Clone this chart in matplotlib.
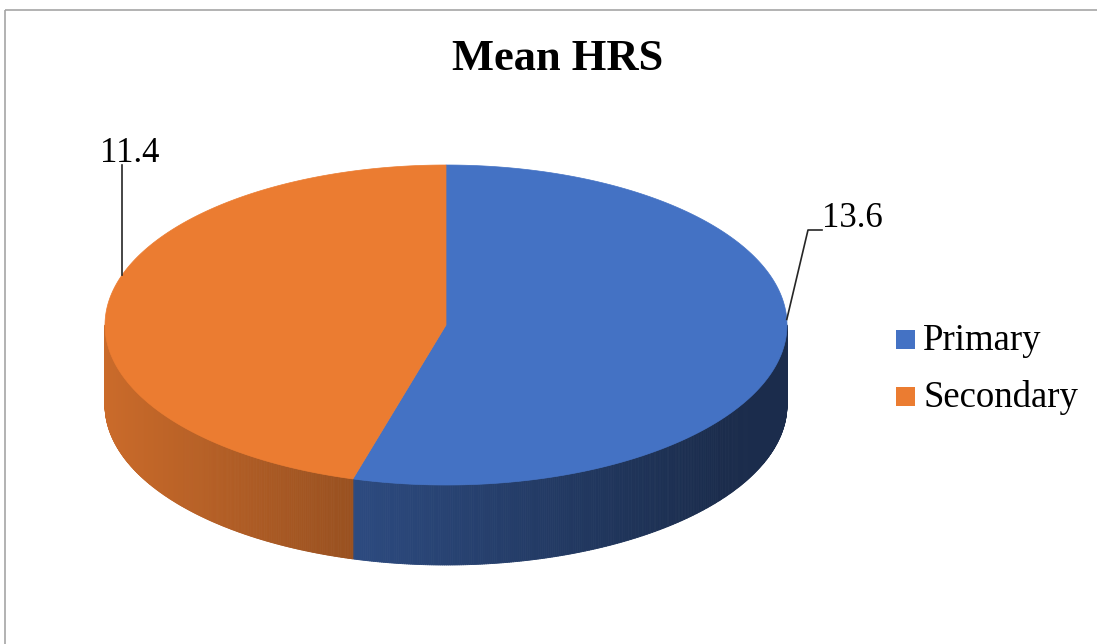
import numpy as np
import matplotlib.pyplot as plt
from matplotlib.collections import PolyCollection
from matplotlib.patches import Polygon, Rectangle
from matplotlib.colors import to_rgb

plt.rcParams['font.family'] = ['Liberation Serif', 'DejaVu Serif']

title = 'Mean HRS'
categories = ['Primary', 'Secondary']
values = [13.6, 11.4]
value_labels = ['13.6', '11.4']
colors = ['#4472C4', '#EB7C31']

# ellipse of the pie top (pixel units), thickness of the disc
cx, cy, rx, ry, depth = 446, 325, 341, 160, 80

# side shading vs. horizontal position (-1 left edge, +1 right edge)
shade_u = [-1.0, -0.31, 0.80, 1.0]
shade_f = [0.86, 0.66, 0.39, 0.39]


def ell(t):
    # t in degrees, clockwise from 12 o'clock
    r = np.radians(t)
    return cx + rx * np.sin(r), cy - ry * np.cos(r)


fig = plt.figure(figsize=(10.97, 6.44), dpi=100)
ax = fig.add_axes([0, 0, 1, 1])
ax.set_xlim(0, 1097)
ax.set_ylim(644, 0)
ax.axis('off')

# chart area border
ax.add_patch(Rectangle((5, 10), 1200, 700, fill=False, ec='#a6a6a6', lw=1.2))

fracs = np.array(values) / sum(values)
edges = np.concatenate([[0], np.cumsum(fracs) * 360])

# front side walls
for i, col in enumerate(colors):
    a0, a1 = max(edges[i], 90), min(edges[i + 1], 270)
    if a1 <= a0:
        continue
    ts = np.linspace(a0, a1, 300)
    xs, ys = ell(ts)
    quads, fcs = [], []
    base = np.array(to_rgb(col))
    for k in range(len(ts) - 1):
        quads.append([(xs[k], ys[k]), (xs[k + 1], ys[k + 1]),
                      (xs[k + 1], ys[k + 1] + depth), (xs[k], ys[k] + depth)])
        u = ((xs[k] + xs[k + 1]) / 2 - cx) / rx
        fcs.append(base * np.interp(u, shade_u, shade_f))
    ax.add_collection(PolyCollection(quads, facecolors=fcs, edgecolors=fcs, lw=0.6))

# top faces
for i, col in enumerate(colors):
    ts = np.linspace(edges[i], edges[i + 1], 300)
    xs, ys = ell(ts)
    pts = np.vstack([[cx, cy], np.column_stack([xs, ys])])
    ax.add_patch(Polygon(pts, closed=True, fc=col, ec=col, lw=0.5))

# data labels with leader lines
px, py = ell(88)
ax.plot([822, 808, px], [230, 230, py], color='#262626', lw=1.2)
ax.text(822, 227, value_labels[0], fontsize=25, ha='left', va='baseline')

sx, sy = ell(288.2)
ax.plot([sx, sx], [165, sy], color='#262626', lw=1.2)
ax.text(130, 162, value_labels[1], fontsize=25, ha='center', va='baseline')

# title
ax.text(558, 70, title, fontsize=32, fontweight='bold', ha='center', va='baseline')

# legend
for i, (name, col) in enumerate(zip(categories, colors)):
    y0 = 330 + i * 57
    ax.add_patch(Rectangle((896, y0), 19, 19, fc=col, ec='none'))
    ax.text(923, y0 + 19.5, name, fontsize=26.5, ha='left', va='baseline')

fig.savefig('out.png', dpi=100)
